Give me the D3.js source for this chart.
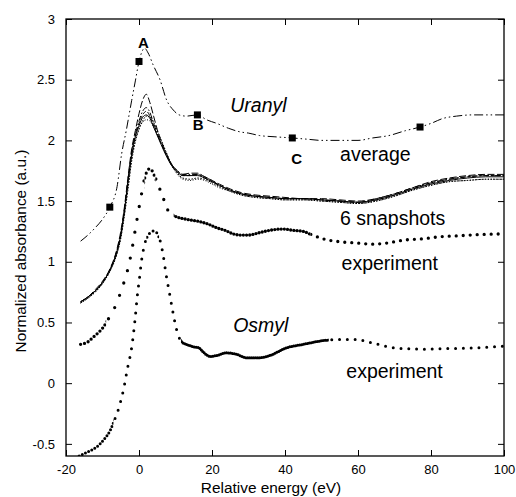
<!DOCTYPE html>
<html>
<head>
<meta charset="utf-8">
<script src="https://cdn.jsdelivr.net/npm/d3@7"></script>
<style>
  body { margin: 0; background: #fff; }
  svg { display: block; font-family: Arial, "Liberation Sans", sans-serif; }
</style>
</head>
<body>
<div class="container"></div>
<script>
// DATA

// uranyl, average of the snapshots (shifted up)
const avgEnergy = [-16, -14, -12, -10, -8, -6, -4.75, -3.5, -2, -1, 0, 0.8, 1.5, 2.5, 3.9, 5.75, 7.6, 9.4, 11, 13, 16, 18.5, 21.3, 24.5, 27.7, 30, 33, 37, 42, 46, 50, 55, 60, 64, 68.5, 73, 77, 80, 83.2, 87, 91.4, 96, 100];
const avgAbs = [1.17, 1.22, 1.28, 1.35, 1.45, 1.62, 1.89, 2.08, 2.33, 2.49, 2.65, 2.73, 2.76, 2.72, 2.62, 2.5, 2.33, 2.25, 2.21, 2.2, 2.21, 2.17, 2.14, 2.1, 2.07, 2.06, 2.04, 2.03, 2.02, 2.01, 2.0, 2.0, 2.0, 2.02, 2.04, 2.08, 2.11, 2.14, 2.18, 2.2, 2.21, 2.21, 2.21];

// square markers on the average curve
const markerEnergy = [-8, 0, 16, 42, 77];
const markerAbs = [1.45, 2.65, 2.21, 2.02, 2.11];

// uranyl, 6 snapshots
const snapEnergy = [-16, -14, -12, -10, -8, -6, -5, -4, -3, -2, -1, 0, 1, 2, 3, 4, 5, 6, 7.5, 9, 10.5, 12, 14, 16, 18, 20, 22, 25, 28, 32, 36, 40, 45, 50, 55, 60, 65, 70, 75, 80, 85, 90, 95, 100];
const snap1 = [0.67, 0.71, 0.76, 0.83, 0.93, 1.09, 1.22, 1.42, 1.66, 1.88, 2.03, 2.12, 2.19, 2.21, 2.18, 2.11, 2.04, 1.97, 1.87, 1.79, 1.74, 1.71, 1.71, 1.71, 1.69, 1.66, 1.63, 1.59, 1.56, 1.54, 1.53, 1.52, 1.52, 1.51, 1.50, 1.49, 1.51, 1.55, 1.60, 1.64, 1.67, 1.69, 1.70, 1.70];
const snap2 = [0.67, 0.71, 0.77, 0.84, 0.94, 1.11, 1.25, 1.45, 1.70, 1.93, 2.08, 2.22, 2.33, 2.38, 2.31, 2.20, 2.09, 2.00, 1.89, 1.80, 1.75, 1.72, 1.73, 1.73, 1.70, 1.67, 1.64, 1.60, 1.57, 1.55, 1.54, 1.53, 1.52, 1.52, 1.51, 1.50, 1.52, 1.56, 1.61, 1.66, 1.69, 1.71, 1.72, 1.72];
const snap3 = [0.67, 0.71, 0.76, 0.83, 0.93, 1.10, 1.23, 1.43, 1.68, 1.90, 2.05, 2.16, 2.24, 2.27, 2.23, 2.14, 2.06, 1.98, 1.88, 1.80, 1.75, 1.72, 1.72, 1.72, 1.70, 1.67, 1.63, 1.59, 1.56, 1.54, 1.53, 1.52, 1.52, 1.51, 1.50, 1.49, 1.52, 1.56, 1.61, 1.65, 1.68, 1.70, 1.71, 1.71];
const snap4 = [0.66, 0.70, 0.75, 0.82, 0.92, 1.07, 1.19, 1.38, 1.60, 1.83, 1.99, 2.09, 2.16, 2.20, 2.20, 2.15, 2.08, 2.01, 1.90, 1.80, 1.73, 1.69, 1.68, 1.69, 1.68, 1.65, 1.62, 1.58, 1.55, 1.53, 1.52, 1.51, 1.51, 1.50, 1.49, 1.48, 1.50, 1.54, 1.59, 1.63, 1.66, 1.67, 1.68, 1.68];
const snap5 = [0.67, 0.71, 0.76, 0.83, 0.93, 1.09, 1.22, 1.42, 1.67, 1.89, 2.04, 2.14, 2.21, 2.24, 2.20, 2.12, 2.05, 1.98, 1.88, 1.79, 1.74, 1.71, 1.71, 1.72, 1.69, 1.66, 1.63, 1.59, 1.56, 1.54, 1.53, 1.52, 1.52, 1.51, 1.50, 1.49, 1.51, 1.55, 1.60, 1.65, 1.68, 1.70, 1.71, 1.71];
const snap6 = [0.66, 0.70, 0.75, 0.82, 0.92, 1.07, 1.20, 1.39, 1.62, 1.85, 2.00, 2.10, 2.15, 2.17, 2.16, 2.11, 2.05, 1.99, 1.89, 1.79, 1.72, 1.68, 1.67, 1.68, 1.67, 1.64, 1.61, 1.58, 1.55, 1.53, 1.52, 1.51, 1.51, 1.50, 1.49, 1.48, 1.50, 1.54, 1.59, 1.63, 1.66, 1.67, 1.68, 1.68];

// uranyl, experiment
const expUEnergy = [-16, -14, -12.5, -11, -9.8, -8, -6.1, -4.7, -3.4, -2, -1.1, -0.2, 0.7, 1.4, 2.1, 3.1, 3.9, 5.3, 6.7, 8, 9, 10.3, 13, 16.7, 19, 21.3, 23.5, 25.8, 28, 30, 33, 36, 39.4, 42, 45, 47.5, 50.3, 55, 59.5, 64, 68, 73, 78, 82, 88, 94, 100];
const expUAbs = [0.32, 0.34, 0.38, 0.42, 0.46, 0.55, 0.66, 0.78, 0.9, 1.09, 1.25, 1.41, 1.56, 1.67, 1.74, 1.77, 1.73, 1.63, 1.52, 1.42, 1.39, 1.37, 1.35, 1.33, 1.31, 1.28, 1.26, 1.23, 1.22, 1.22, 1.24, 1.26, 1.27, 1.26, 1.25, 1.22, 1.19, 1.165, 1.155, 1.145, 1.155, 1.18, 1.19, 1.205, 1.215, 1.225, 1.23];

// osmyl, experiment
const expOsEnergy = [-16.4, -14, -11.6, -9.5, -7.9, -6.8, -5.7, -4.3, -2.9, -2.3, -1.1, -0.5, 0.07, 0.7, 1.6, 2.8, 4.1, 5.5, 6.7, 7.4, 8.3, 9.2, 10.3, 11.7, 13, 14.9, 16.5, 17.5, 19.5, 21.5, 24, 26.5, 29.5, 33, 36, 40.3, 45, 50.3, 55, 59.5, 64, 70.4, 77.7, 85, 91.4, 100];
const expOsAbs = [-0.6, -0.565, -0.525, -0.46, -0.39, -0.31, -0.22, -0.06, 0.16, 0.24, 0.52, 0.71, 0.85, 1.01, 1.15, 1.23, 1.255, 1.2, 1.04, 0.9, 0.75, 0.6, 0.44, 0.34, 0.32, 0.3, 0.29, 0.26, 0.22, 0.23, 0.25, 0.24, 0.21, 0.21, 0.23, 0.29, 0.32, 0.35, 0.36, 0.36, 0.33, 0.29, 0.28, 0.285, 0.29, 0.305];

// ticks
const xTicks = [-20, 0, 20, 40, 60, 80, 100];
const yTicks = [-0.5, 0, 0.5, 1, 1.5, 2, 2.5, 3];

// SETUP
const margin = { top: 19, right: 12, bottom: 41, left: 66 };
const width = 516 - margin.left - margin.right,
      height = 497 - margin.top - margin.bottom;

const svg = d3.select("div.container")
  .append("svg")
  .attr("width", 516)
  .attr("height", 497);

const g = svg.append("g")
  .attr("transform", `translate(${margin.left}, ${margin.top})`);

const x = d3.scaleLinear().domain([-20, 100]).range([0, width]);
const y = d3.scaleLinear().domain([-0.6, 3]).range([height, 0]);

const defs = svg.append("defs");
defs.append("clipPath").attr("id", "plot-clip")
  .append("rect").attr("width", width).attr("height", height);

// axes, ticks pointing inside the frame
const fmt = (d) => String(d);

g.append("g")
  .attr("transform", `translate(0, ${height})`)
  .call(d3.axisBottom(x).tickValues(xTicks).tickSize(-6).tickPadding(9).tickFormat(fmt));
g.append("g")
  .call(d3.axisTop(x).tickValues(xTicks).tickSize(-6).tickFormat(""));
g.append("g")
  .call(d3.axisLeft(y).tickValues(yTicks).tickSize(-6).tickPadding(11).tickFormat(fmt));
g.append("g")
  .attr("transform", `translate(${width}, 0)`)
  .call(d3.axisRight(y).tickValues(yTicks).tickSize(-6).tickFormat(""));

g.selectAll(".domain").remove();
g.selectAll(".tick line").attr("stroke", "#000").attr("stroke-width", 1);
g.selectAll(".tick text")
  .attr("fill", "#000")
  .style("font-size", "13px")
  .style("font-family", "Arial, 'Liberation Sans', sans-serif");

g.append("rect")
  .attr("width", width)
  .attr("height", height)
  .attr("fill", "none")
  .attr("stroke", "#000")
  .attr("stroke-width", 1.3);

// axis titles
svg.append("text")
  .attr("x", 271)
  .attr("y", 493)
  .attr("text-anchor", "middle")
  .style("font-size", "15.4px")
  .text("Relative energy (eV)");

svg.append("text")
  .attr("transform", "translate(26, 251) rotate(-90)")
  .attr("text-anchor", "middle")
  .style("font-size", "15.4px")
  .text("Normalized absorbance (a.u.)");

// CURVES
const plot = g.append("g").attr("clip-path", "url(#plot-clip)");

const line = d3.line()
  .x((d) => x(d[0]))
  .y((d) => y(d[1]))
  .curve(d3.curveMonotoneX);

const zip = (xs, ys) => xs.map((v, i) => [v, ys[i]]);

// six snapshots, each its own dash style
const snapshots = [
  { values: snap6, dash: "1 1.6" },
  { values: snap4, dash: "1.6 1.4" },
  { values: snap5, dash: "4 2" },
  { values: snap3, dash: "6 2 1.5 2" },
  { values: snap2, dash: "7 2.5" },
  { values: snap1, dash: null }
];

plot.selectAll("path.snap")
  .data(snapshots)
  .enter()
  .append("path")
  .attr("class", "snap")
  .attr("d", (d) => line(zip(snapEnergy, d.values)))
  .attr("fill", "none")
  .attr("stroke", "#000")
  .attr("stroke-width", 1)
  .attr("stroke-dasharray", (d) => d.dash);

// average: dash-dot-dot
plot.append("path")
  .attr("d", line(zip(avgEnergy, avgAbs)))
  .attr("fill", "none")
  .attr("stroke", "#000")
  .attr("stroke-width", 1)
  .attr("stroke-dasharray", "9 3 1.5 3 1.5 3");

plot.selectAll("rect.marker")
  .data(zip(markerEnergy, markerAbs))
  .enter()
  .append("rect")
  .attr("class", "marker")
  .attr("x", (d) => x(d[0]) - 3.5)
  .attr("y", (d) => y(d[1]) - 3.5)
  .attr("width", 7)
  .attr("height", 7)
  .attr("fill", "#000");

// dotted experimental curves; dot spacing changes with the sampling density
function dotted(points, segments, size, id) {
  segments.forEach((s, i) => {
    const cid = `${id}-${i}`;
    defs.append("clipPath").attr("id", cid)
      .append("rect")
      .attr("x", x(s.from))
      .attr("y", -10)
      .attr("width", x(s.to) - x(s.from))
      .attr("height", height + 20);
    plot.append("g")
      .attr("clip-path", `url(#${cid})`)
      .append("path")
      .attr("d", line(points))
      .attr("fill", "none")
      .attr("stroke", "#000")
      .attr("stroke-width", size)
      .attr("stroke-linecap", "round")
      .attr("stroke-dasharray", `0 ${s.gap}`);
  });
}

dotted(zip(expUEnergy, expUAbs), [
  { from: -20, to: -9, gap: 4 },
  { from: -9, to: 1.5, gap: 13 },
  { from: 1.5, to: 4.5, gap: 5 },
  { from: 4.5, to: 9.5, gap: 11 },
  { from: 9.5, to: 47, gap: 3.2 },
  { from: 47, to: 101, gap: 7 }
], 3.3, "expu");

dotted(zip(expOsEnergy, expOsAbs), [
  { from: -20, to: -7, gap: 3.5 },
  { from: -7, to: 2, gap: 9 },
  { from: 2, to: 5.5, gap: 4.5 },
  { from: 5.5, to: 11.5, gap: 9 },
  { from: 11.5, to: 52, gap: 2 },
  { from: 52, to: 101, gap: 7.8 }
], 3, "expos");

// ANNOTATIONS
const labels = [
  { text: "Uranyl", e: 25, a: 2.237, style: "italic", weight: "normal", size: 19.5, anchor: "start" },
  { text: "average", e: 55.1, a: 1.83, style: "normal", weight: "normal", size: 19.5, anchor: "start" },
  { text: "6 snapshots", e: 55.1, a: 1.303, style: "normal", weight: "normal", size: 19.5, anchor: "start" },
  { text: "experiment", e: 55.5, a: 0.93, style: "normal", weight: "normal", size: 19.5, anchor: "start" },
  { text: "Osmyl", e: 25.8, a: 0.42, style: "italic", weight: "normal", size: 19.5, anchor: "start" },
  { text: "experiment", e: 56.8, a: 0.04, style: "normal", weight: "normal", size: 19.5, anchor: "start" },
  { text: "A", e: 1.2, a: 2.757, style: "normal", weight: "bold", size: 15, anchor: "middle" },
  { text: "B", e: 16.2, a: 2.086, style: "normal", weight: "bold", size: 15, anchor: "middle" },
  { text: "C", e: 43.2, a: 1.806, style: "normal", weight: "bold", size: 15, anchor: "middle" }
];

g.selectAll("text.label")
  .data(labels)
  .enter()
  .append("text")
  .attr("class", "label")
  .attr("x", (d) => x(d.e))
  .attr("y", (d) => y(d.a))
  .attr("text-anchor", (d) => d.anchor)
  .style("font-size", (d) => `${d.size}px`)
  .style("font-style", (d) => d.style)
  .style("font-weight", (d) => d.weight)
  .text((d) => d.text);
</script>
</body>
</html>
